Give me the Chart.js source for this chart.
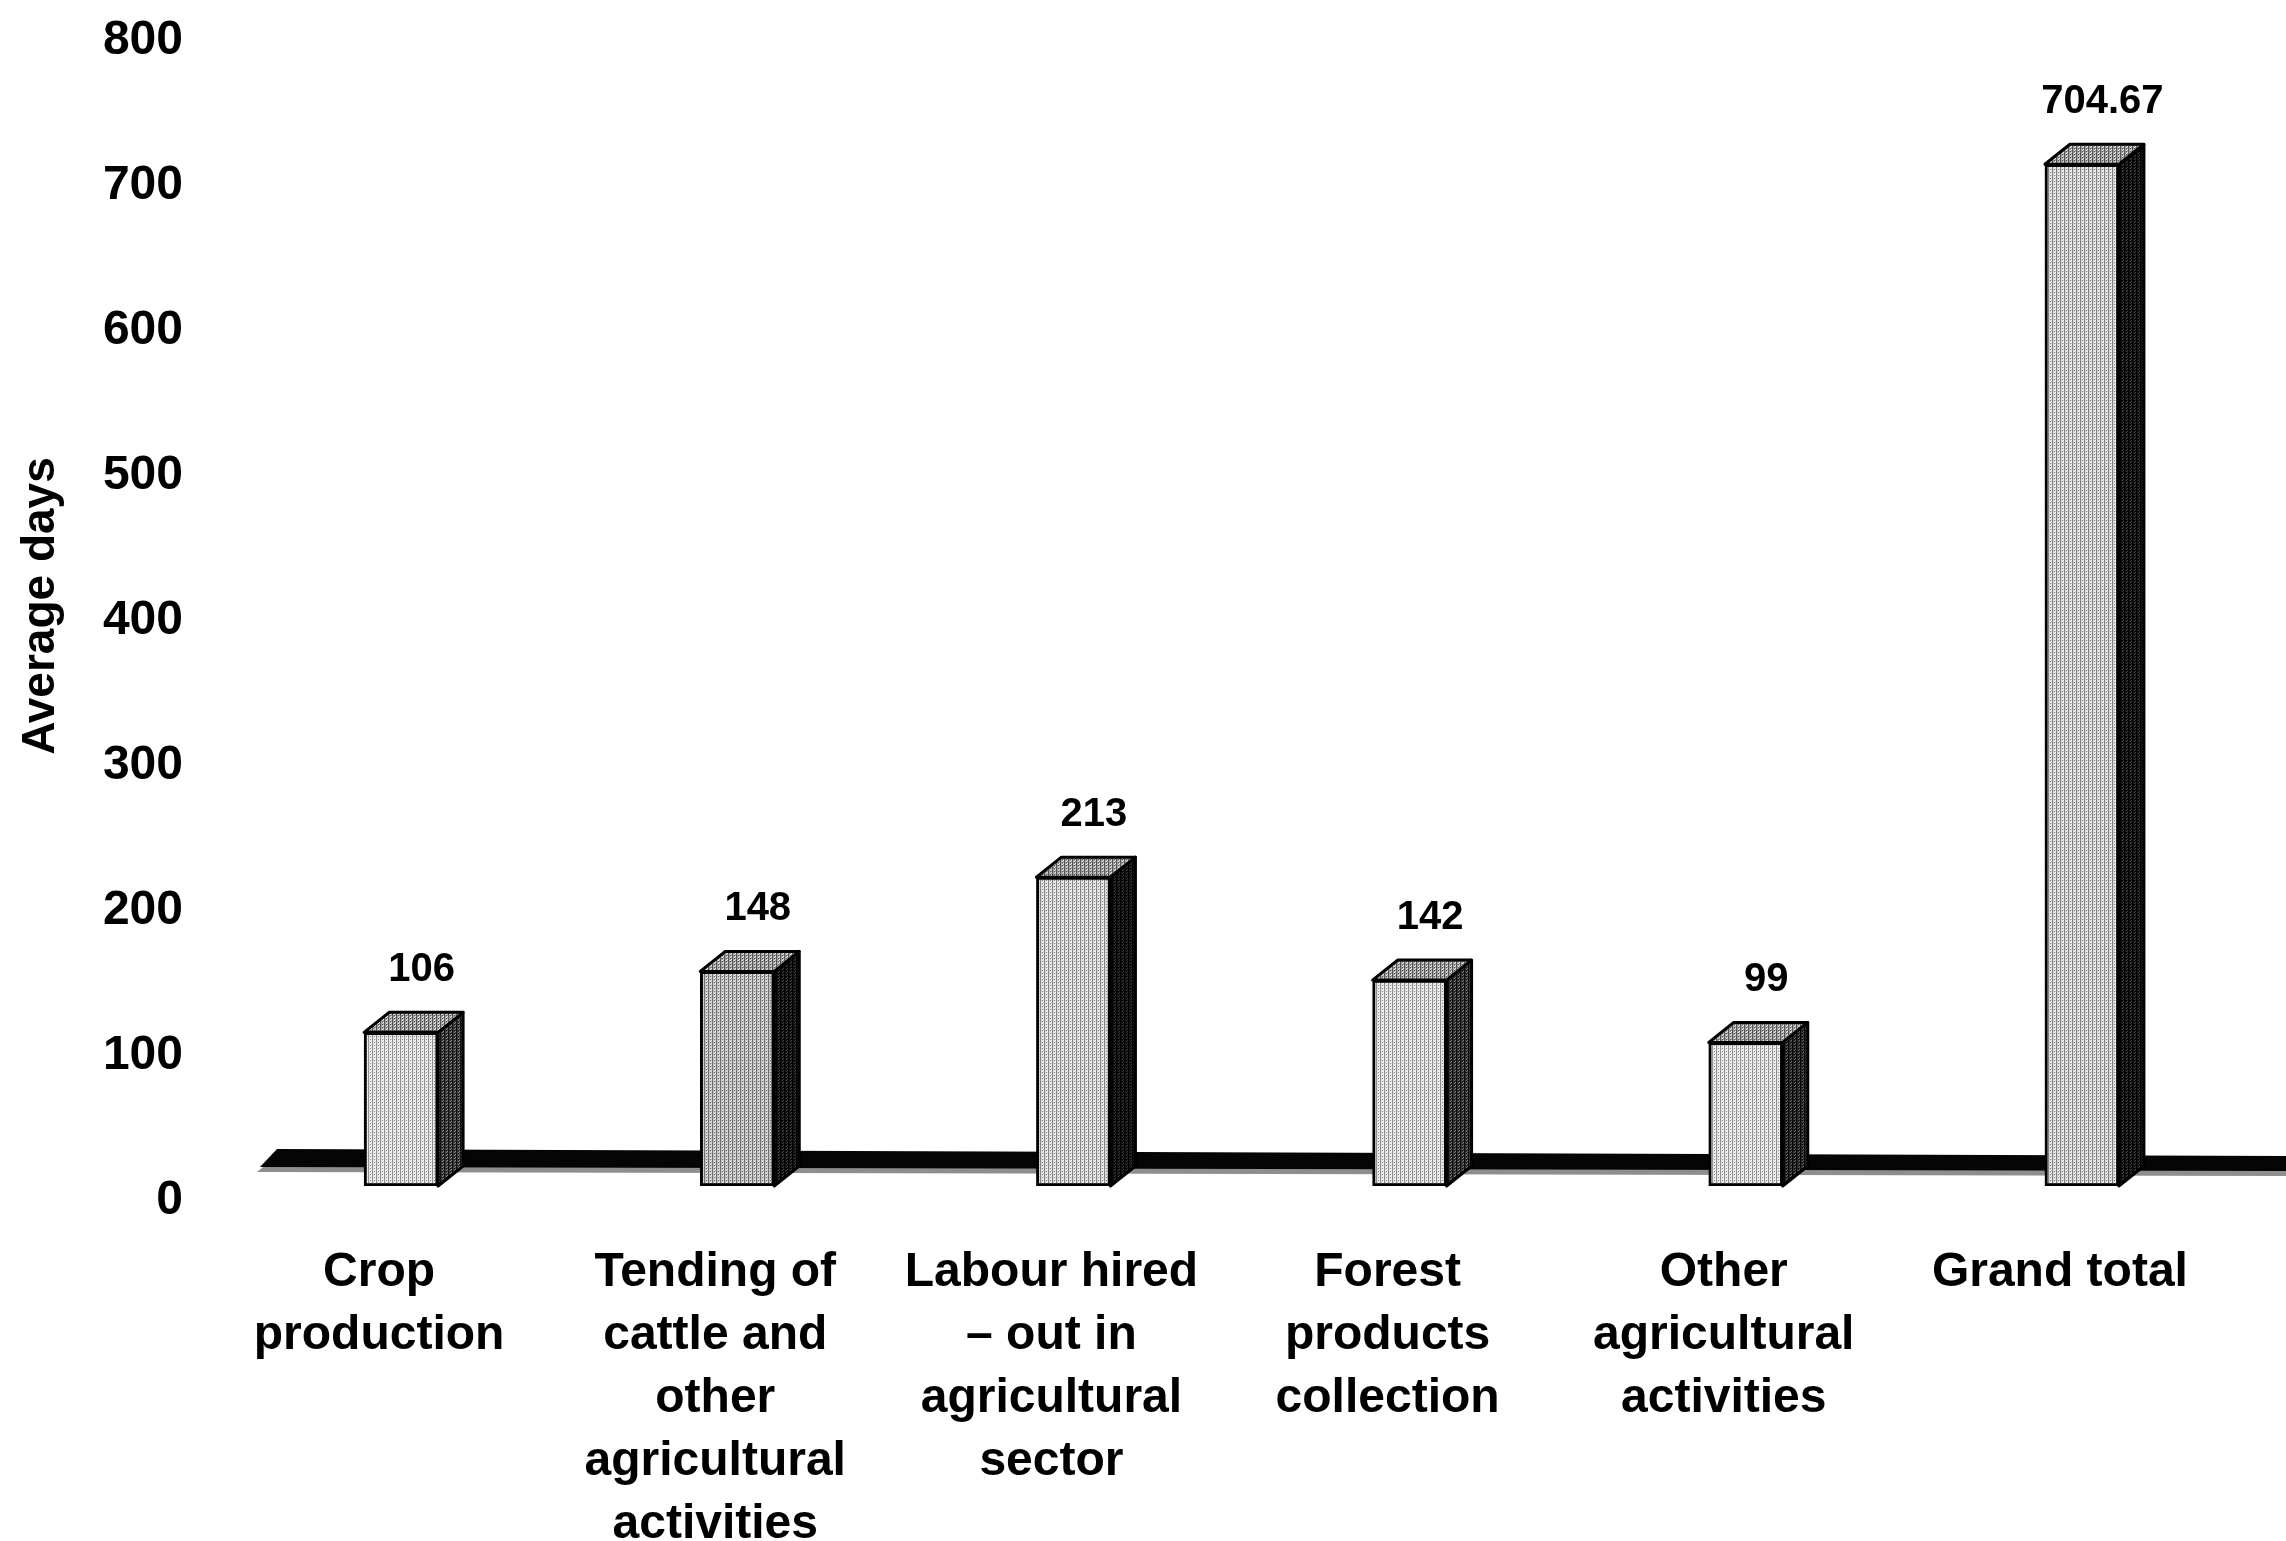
<!DOCTYPE html>
<html>
<head>
<meta charset="utf-8">
<title>Average days</title>
<script src="https://cdn.jsdelivr.net/npm/chart.js@4.4.1/dist/chart.umd.min.js"></script>
<style>
  html, body { margin: 0; padding: 0; background: #fff; }
  canvas { display: block; }
</style>
</head>
<body>
<canvas id="daysChart" width="2286" height="1541"></canvas>
<script>
// Categories (split into lines as printed under each bar)
const categories = [
    ['Crop', 'production'],
    ['Tending of', 'cattle and', 'other', 'agricultural', 'activities'],
    ['Labour hired', '\u2013 out in', 'agricultural', 'sector'],
    ['Forest', 'products', 'collection'],
    ['Other', 'agricultural', 'activities'],
    ['Grand total']
];
const averageDays = [106, 148, 213, 142, 99, 704.67];
const yMin = 0;
const yMax = 800;
const yStep = 100;

// 3D look of the columns
const DEPTH_X = 25;
const DEPTH_Y = 20;
const FONT = "'Liberation Sans', Arial, sans-serif";

const canvas = document.getElementById('daysChart');
const ctx = canvas.getContext('2d');

// small stipple tiles, like the screened print of the columns
function stipple(base, dark, light) {
    const tile = document.createElement('canvas');
    tile.width = 4;
    tile.height = 3;
    const g = tile.getContext('2d');
    g.fillStyle = base;
    g.fillRect(0, 0, 4, 3);
    g.fillStyle = dark;
    g.fillRect(0, 0, 1, 3);
    g.fillRect(2, 1, 1, 1);
    g.fillStyle = light;
    g.fillRect(2, 0, 1, 1);
    g.fillRect(3, 2, 1, 1);
    return ctx.createPattern(tile, 'repeat');
}

const frontFills = [
    stipple('#e2e2e2', '#909090', '#ffffff'),
    stipple('#c2c2c2', '#707070', '#e8e8e8'),
    stipple('#d8d8d8', '#858585', '#ffffff'),
    stipple('#e0e0e0', '#8e8e8e', '#ffffff'),
    stipple('#e2e2e2', '#909090', '#ffffff'),
    stipple('#d4d4d4', '#828282', '#ffffff')
];
const sideFills = [
    stipple('#3a3a3a', '#111111', '#8a8a8a'),
    stipple('#111111', '#000000', '#444444'),
    stipple('#111111', '#000000', '#3a3a3a'),
    stipple('#333333', '#0c0c0c', '#7a7a7a'),
    stipple('#262626', '#080808', '#666666'),
    stipple('#111111', '#000000', '#444444')
];
const topFill = stipple('#a0a0a0', '#555555', '#e8e8e8');

// dark floor strip that the columns stand on
const floorPlugin = {
    id: 'floor',
    beforeDatasetsDraw(chart) {
        const c = chart.ctx;
        const y0 = chart.scales.y.getPixelForValue(0);
        const left = chart.chartArea.left;
        const right = chart.width;
        c.save();
        c.fillStyle = '#8e8e8e';
        c.beginPath();
        c.moveTo(left + 24, y0 - 14);
        c.lineTo(left + 44, y0 - 30);
        c.lineTo(right, y0 - 24);
        c.lineTo(right, y0 - 10);
        c.closePath();
        c.fill();
        c.fillStyle = '#050505';
        c.beginPath();
        c.moveTo(left + 27, y0 - 19);
        c.lineTo(left + 44, y0 - 37);
        c.lineTo(right, y0 - 30);
        c.lineTo(right, y0 - 15);
        c.closePath();
        c.fill();
        c.restore();
    }
};

// top and side faces of each column, plus the value above it
const columnPlugin = {
    id: 'columns3d',
    afterDatasetsDraw(chart) {
        const c = chart.ctx;
        const meta = chart.getDatasetMeta(0);
        c.save();
        c.lineWidth = 3;
        c.lineJoin = 'round';
        c.strokeStyle = '#000';
        meta.data.forEach((bar, i) => {
            const l = bar.x - bar.width / 2;
            const r = bar.x + bar.width / 2;
            const t = bar.y;
            const b = bar.base;

            c.fillStyle = sideFills[i];
            c.beginPath();
            c.moveTo(r, t);
            c.lineTo(r + DEPTH_X, t - DEPTH_Y);
            c.lineTo(r + DEPTH_X, b - DEPTH_Y);
            c.lineTo(r, b);
            c.closePath();
            c.fill();
            c.stroke();

            c.fillStyle = topFill;
            c.beginPath();
            c.moveTo(l, t);
            c.lineTo(l + DEPTH_X, t - DEPTH_Y);
            c.lineTo(r + DEPTH_X, t - DEPTH_Y);
            c.lineTo(r, t);
            c.closePath();
            c.fill();
            c.stroke();

            c.fillStyle = '#000';
            c.font = 'bold 40px ' + FONT;
            c.textAlign = 'center';
            c.textBaseline = 'middle';
            c.fillText(String(averageDays[i]), bar.x + DEPTH_X / 2 + 8, t - 62);
        });
        c.restore();
    }
};

const config = {
    type: 'bar',
    data: {
        labels: categories,
        datasets: [{
            label: 'Average days',
            data: averageDays,
            backgroundColor: frontFills,
            borderColor: '#000',
            borderWidth: 3,
            borderSkipped: false,
            barThickness: 74
        }]
    },
    options: {
        responsive: false,
        animation: false,
        devicePixelRatio: 1,
        layout: { padding: { top: 26, right: 36, left: 0, bottom: 0 } },
        plugins: {
            legend: { display: false },
            tooltip: { enabled: false }
        },
        scales: {
            x: {
                grid: { display: false },
                border: { display: false },
                ticks: {
                    color: '#000',
                    font: { family: FONT, size: 48, weight: 'bold', lineHeight: 1.3125 },
                    padding: 47,
                    labelOffset: -22,
                    maxRotation: 0,
                    autoSkip: false
                },
                afterFit(scale) { scale.height = 355; }
            },
            y: {
                min: yMin,
                max: yMax,
                grid: { display: false, drawTicks: false },
                border: { display: false },
                ticks: {
                    stepSize: yStep,
                    color: '#000',
                    font: { family: FONT, size: 48, weight: 'bold' },
                    padding: 50,
                    labelOffset: 15
                },
                title: {
                    display: true,
                    text: 'Average days',
                    color: '#000',
                    font: { family: FONT, size: 46, weight: 'bold' },
                    padding: { top: 14, bottom: 0 }
                },
                afterFit(scale) {
                    scale.width = 233;
                    scale.paddingTop = 0;
                    scale.paddingBottom = 0;
                }
            }
        }
    },
    plugins: [floorPlugin, columnPlugin]
};

const daysChart = new Chart(canvas, config);
</script>
</body>
</html>
